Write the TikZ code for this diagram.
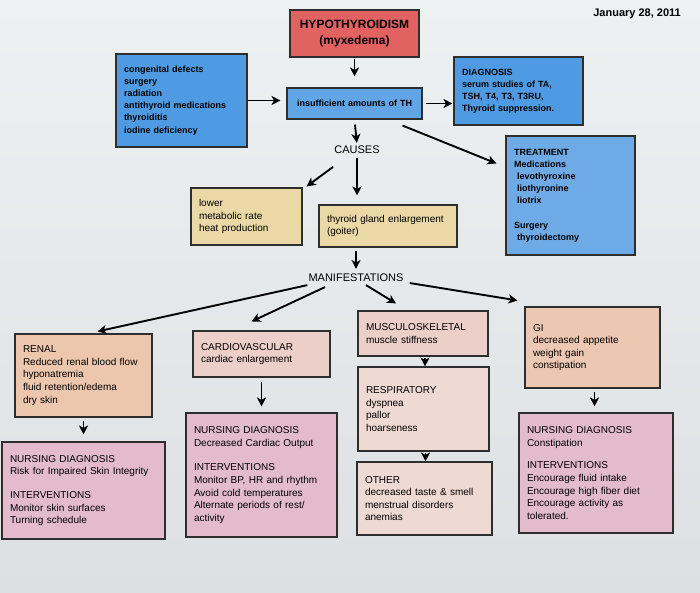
\documentclass[tikz,border=0pt]{standalone}
\usepackage{fontspec}
\setmainfont{Liberation Sans}
\usetikzlibrary{arrows.meta}
\definecolor{bgtop}{HTML}{EEF1F2}
\definecolor{bgbot}{HTML}{DCE0E2}
\definecolor{cred}{HTML}{E26262}
\definecolor{cblue}{HTML}{4F9BE3}
\definecolor{cbluelt}{HTML}{6EAAE6}
\definecolor{ctan}{HTML}{EAD9A6}
\definecolor{cpeach}{HTML}{ECC7AE}
\definecolor{cpink}{HTML}{EBCFC8}
\definecolor{cnurse}{HTML}{E3BBCD}
\definecolor{cline}{HTML}{2E2E2E}
\tikzset{
  box/.style={draw=cline, line width=1.1pt, inner xsep=8pt, inner ysep=0pt, align=left,
    font=\fontsize{10}{12.6}\selectfont},
  bluebox/.style={box, fill=cblue, font=\bfseries\fontsize{9}{12.1}\selectfont},
  tanbox/.style={box, fill=ctan},
  peachbox/.style={box, fill=cpeach},
  pinkbox/.style={box, fill=cpink},
  nursebox/.style={box, fill=cnurse},
  lbl/.style={inner sep=1pt, font=\fontsize{11}{13}\selectfont},
  arr/.style={-{Stealth[length=9pt,width=9pt,inset=2.5pt]}, line width=1.9pt, black},
}
\begin{document}
\begin{tikzpicture}[x=1pt,y=-1pt]
\shade[top color=bgtop, bottom color=bgbot] (0,0) rectangle (700,592);
\useasboundingbox (0,0) rectangle (700,592);

\node[anchor=east, inner sep=0pt, font=\bfseries\fontsize{11}{13}\selectfont] (date) at (681,14) {January 28, 2011};

\node[box, fill=cred, align=center, inner xsep=4pt, text width=121pt, minimum height=47pt,
  font=\bfseries\fontsize{12}{16}\selectfont] (hypo) at (354.5,33.5) {HYPOTHYROIDISM\\(myxedema)};

\node[bluebox, text width=115pt, minimum height=93pt] (causeslist) at (181.5,100.5)
  {congenital defects\\surgery\\radiation\\antithyroid medications\\thyroiditis\\iodine deficiency};

\node[bluebox, fill=cblue!90!white, align=center, text width=119pt, minimum height=31pt] (insuff) at (354.5,103.5)
  {insufficient amounts of TH};

\node[bluebox, text width=113pt, minimum height=68pt] (diag) at (518.5,91)
  {DIAGNOSIS\\serum studies of TA,\\TSH, T4, T3, T3RU,\\Thyroid suppression.};

\node[bluebox, fill=cbluelt, text width=113pt, minimum height=119pt] (treat) at (570.5,195.5)
  {TREATMENT\\Medications\\\hspace*{3pt}levothyroxine\\\hspace*{3pt}liothyronine\\\hspace*{3pt}liotrix\\[12.3pt]Surgery\\\hspace*{3pt}thyroidectomy};

\node[lbl] (causes) at (357,150) {CAUSES};

\node[tanbox, text width=95pt, minimum height=57pt] (lower) at (246.5,216.5)
  {lower\\metabolic rate\\heat production};

\node[tanbox, text width=122pt, minimum height=42pt] (thyroid) at (388,226)
  {thyroid gland enlargement\\(goiter)};

\node[lbl] (manif) at (356,278) {MANIFESTATIONS};

\node[peachbox, text width=121pt, minimum height=83pt] (renal) at (83.5,375.5)
  {RENAL\\Reduced renal blood flow\\hyponatremia\\fluid retention/edema\\dry skin};

\node[pinkbox, text width=121pt, minimum height=46pt] (cardio) at (261.5,354)
  {CARDIOVASCULAR\\cardiac enlargement};

\node[pinkbox, text width=114pt, minimum height=45pt] (musculo) at (423,333.5)
  {MUSCULOSKELETAL\\muscle stiffness};

\node[peachbox, fill=cpeach!85!cpink, text width=119pt, minimum height=81pt] (gi) at (592.5,347.5)
  {GI\\decreased appetite\\weight gain\\constipation};

\node[pinkbox, fill=cpink!80!white, text width=115pt, minimum height=84pt] (resp) at (423.5,409)
  {RESPIRATORY\\dyspnea\\pallor\\hoarseness};

\node[pinkbox, fill=cpink!80!white, text width=119pt, minimum height=73pt] (other) at (424.5,498.5)
  {OTHER\\decreased taste \& smell\\menstrual disorders\\anemias};

\node[nursebox, text width=147pt, minimum height=97pt] (nrenal) at (83.5,490.5)
  {NURSING DIAGNOSIS\\Risk for Impaired Skin Integrity\\[11.5pt]INTERVENTIONS\\Monitor skin surfaces\\Turning schedule};

\node[nursebox, text width=135pt, minimum height=124pt] (ncardio) at (261.5,475)
  {NURSING DIAGNOSIS\\Decreased Cardiac Output\\[12pt]INTERVENTIONS\\Monitor BP, HR and rhythm\\Avoid cold temperatures\\Alternate periods of rest/\\activity};

\node[nursebox, text width=138pt, minimum height=120pt] (ngi) at (596,473)
  {NURSING DIAGNOSIS\\Constipation\\[10pt]INTERVENTIONS\\Encourage fluid intake\\Encourage high fiber diet\\Encourage activity as\\tolerated.};

% connectors
\draw[arr, shorten <=1pt, shorten >=11pt] (hypo.south) -- (insuff.north);
\draw[arr, shorten >=6pt] (causeslist.east) -- (causeslist.east -| insuff.west);
\draw[arr, shorten <=3pt, shorten >=1pt] (insuff.east) -- (insuff.east -| diag.west);
\draw[arr, shorten <=5pt, shorten >=2pt] (insuff.south) -- (causes.north);
\draw[arr] ([xshift=-20pt,yshift=-6pt]insuff.south east) -- ([xshift=-9pt,yshift=-28pt]treat.north west);
\draw[arr] ([xshift=-24pt,yshift=-17pt]causes.center) -- ([xshift=4pt,yshift=1pt]lower.north east);
\draw[arr, shorten <=3pt, shorten >=9pt] (causes.south) -- (causes.south |- thyroid.north);
\draw[arr, shorten <=3pt, shorten >=4pt] (manif.north |- thyroid.south) -- (manif.north);
\draw[arr] ([yshift=-2pt]manif.south west) -- ([xshift=14pt,yshift=2pt]renal.north);
\draw[arr] ([xshift=-31pt,yshift=-4pt]manif.south) -- ([xshift=-10pt,yshift=9pt]cardio.north);
\draw[arr] ([xshift=10pt,yshift=-2pt]manif.south) -- ([xshift=-27pt,yshift=7pt]musculo.north);
\draw[arr] ([xshift=5pt,yshift=-5pt]manif.east) -- ([xshift=-7pt,yshift=6pt]gi.north west);
\draw[arr, shorten <=3pt, shorten >=7pt] (renal.south) -- (nrenal.north);
\draw[arr, shorten <=4pt, shorten >=6pt] (cardio.south) -- (ncardio.north);
\draw[arr, shorten <=1pt] ([xshift=2pt]musculo.south) -- ([xshift=2pt]musculo.south |- resp.north);
\draw[arr, shorten <=1pt] ([xshift=2pt]resp.south) -- ([xshift=2pt]resp.south |- other.north);
\draw[arr, shorten <=3pt, shorten >=6pt] ([xshift=2pt]gi.south) -- ([xshift=2pt]gi.south |- ngi.north);
\end{tikzpicture}
\end{document}
